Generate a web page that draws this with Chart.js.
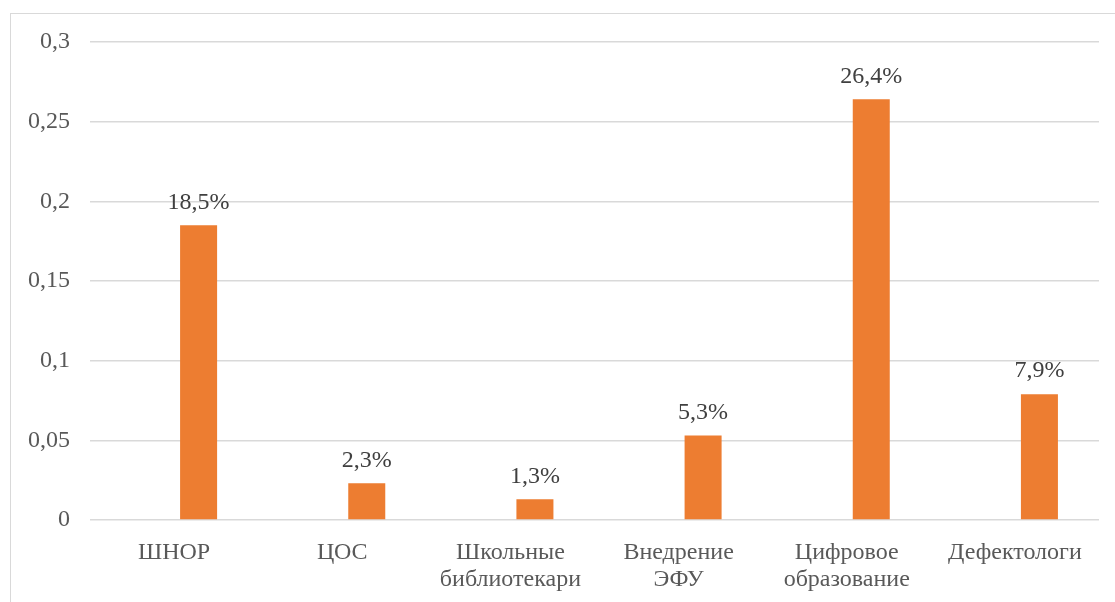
<!DOCTYPE html>
<html>
<head>
<meta charset="utf-8">
<script src="https://cdn.jsdelivr.net/npm/chart.js@4/dist/chart.umd.min.js"></script>
<style>
  html, body { margin: 0; padding: 0; background: #fff; }
  #frame { position: absolute; left: 10px; top: 13px; width: 1200px; height: 700px; border: 1px solid #d9d9d9; }
  #wrap { position: absolute; left: 0; top: 0; width: 1115px; height: 602px; }
</style>
</head>
<body>
<div id="frame"></div>
<div id="wrap"><canvas id="chart"></canvas></div>
<script>
const categories = [
  'ШНОР',
  'ЦОС',
  ['Школьные', 'библиотекари'],
  ['Внедрение', 'ЭФУ'],
  ['Цифровое', 'образование'],
  'Дефектологи',
];
const shares = [0.185, 0.023, 0.013, 0.053, 0.264, 0.079];
const emptySeries = [null, null, null, null, null, null];
const yTickLabels = ['0', '0,05', '0,1', '0,15', '0,2', '0,25', '0,3'];

const fontFamily = '"Liberation Serif", "Times New Roman", serif';
const textColor = '#595959';
const gridColor = '#d9d9d9';
const barColor = '#ED7D31';

// подписи значений над столбцами
const barLabels = {
  id: 'barLabels',
  afterDatasetsDraw(chart) {
    const { ctx } = chart;
    const meta = chart.getDatasetMeta(1);
    ctx.save();
    ctx.font = `24px ${fontFamily}`;
    ctx.fillStyle = '#404040';
    ctx.textAlign = 'center';
    ctx.textBaseline = 'middle';
    meta.data.forEach((bar, index) => {
      const text = `${(shares[index] * 100).toFixed(1).replace('.', ',')}%`;
      ctx.fillText(text, bar.x, bar.y - 23);
    });
    ctx.restore();
  },
};

new Chart(document.getElementById('chart').getContext('2d'), {
  type: 'bar',
  data: {
    labels: categories,
    datasets: [
      {
        label: 'empty',
        data: emptySeries,
        backgroundColor: barColor,
      },
      {
        label: 'Доля',
        data: shares,
        backgroundColor: barColor,
      },
    ],
  },
  options: {
    responsive: true,
    maintainAspectRatio: false,
    animation: false,
    categoryPercentage: 0.583,
    barPercentage: 0.755,
    layout: {
      padding: { left: 0, right: 16, top: 42, bottom: 0 },
    },
    plugins: {
      legend: { display: false },
      tooltip: { enabled: false },
    },
    scales: {
      x: {
        grid: { display: false, drawTicks: false },
        border: { display: false },
        ticks: {
          color: textColor,
          padding: 19,
          maxRotation: 0,
          autoSkip: false,
          font: { family: fontFamily, size: 24, lineHeight: 1.125 },
        },
        afterFit(scale) {
          scale.height = 82;
        },
      },
      y: {
        min: 0,
        max: 0.3,
        grid: { color: gridColor, lineWidth: 1.5, drawTicks: false },
        border: { display: false },
        ticks: {
          stepSize: 0.05,
          color: textColor,
          padding: 20,
          font: { family: fontFamily, size: 24 },
          callback(value, index) {
            return yTickLabels[index];
          },
        },
        afterFit(scale) {
          scale.width = 90;
        },
      },
    },
  },
  plugins: [barLabels],
});
</script>
</body>
</html>
